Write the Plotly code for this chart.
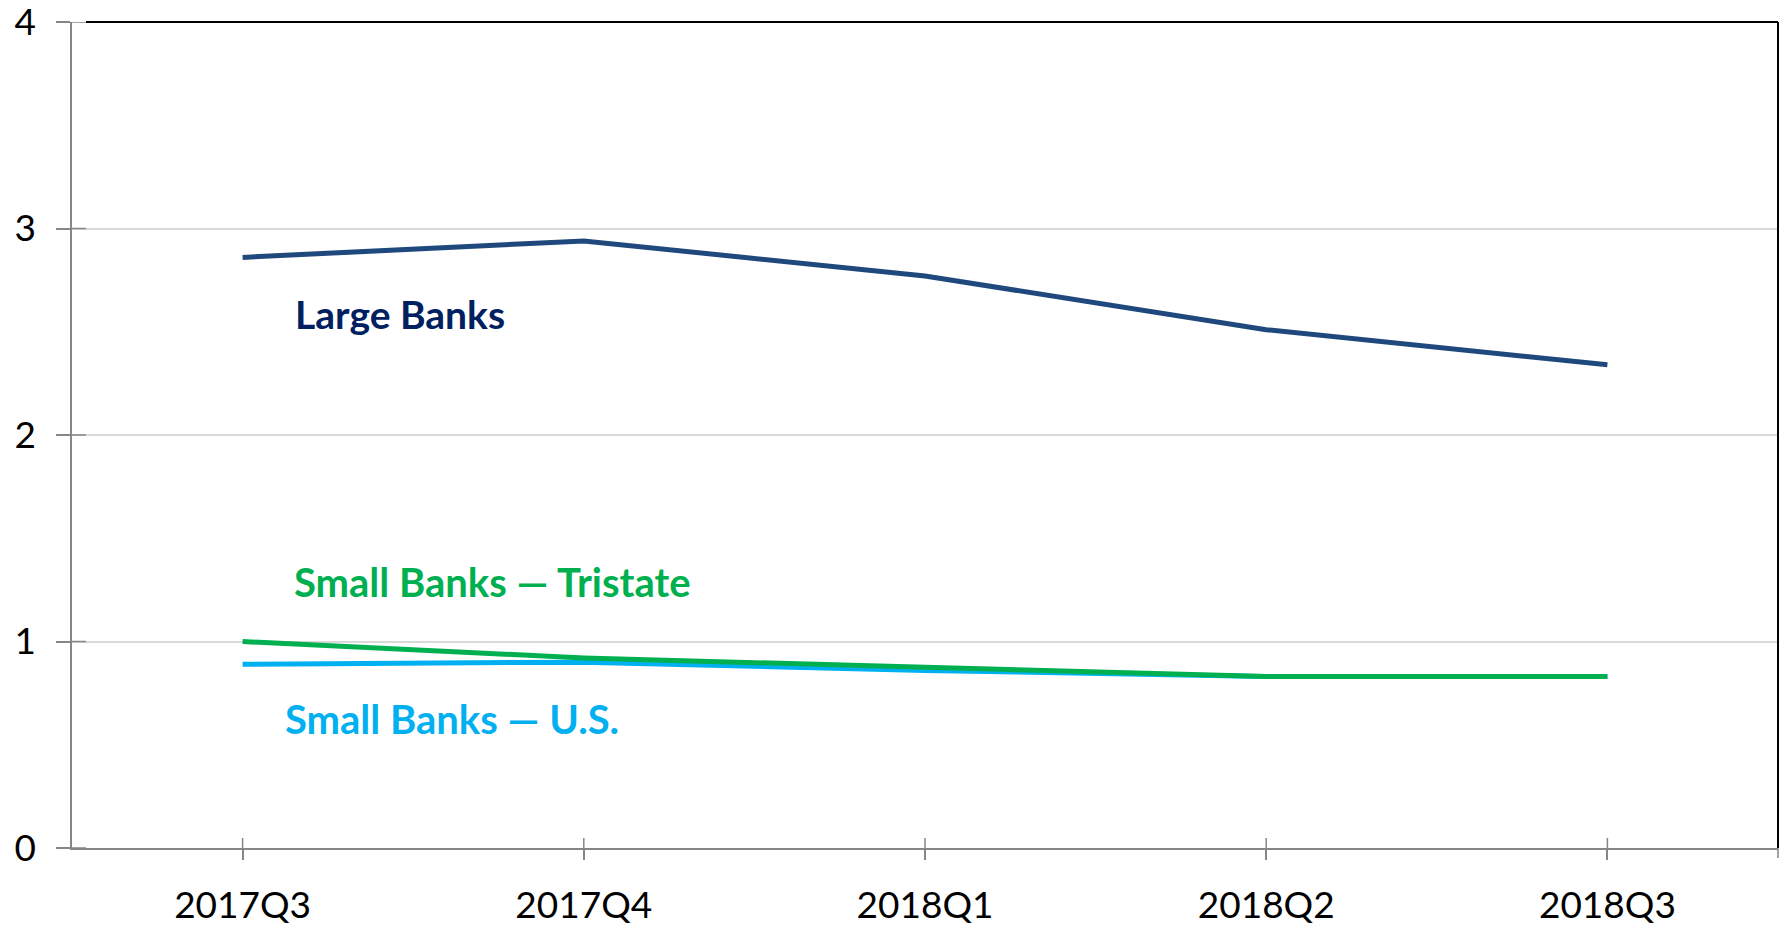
import plotly.graph_objects as go

quarters = ["2017Q3", "2017Q4", "2018Q1", "2018Q2", "2018Q3"]
large_banks = [2.86, 2.94, 2.77, 2.51, 2.34]
small_us = [0.89, 0.90, 0.86, 0.83, 0.83]
small_tristate = [1.00, 0.92, 0.875, 0.83, 0.83]
y_ticks = [0, 1, 2, 3, 4]

# the page body has an 8px default margin, so the figure is 8px smaller
W, H = 1787 - 8, 926 - 8
ML, MR, MT, MB = 64, 9, 14, 78
PW, PH = W - ML - MR, H - MT - MB

AX = "#868686"
fig = go.Figure()
fig.add_trace(go.Scatter(x=quarters, y=large_banks, mode="lines",
                         line=dict(color="#1F497D", width=5), name="Large Banks"))
fig.add_trace(go.Scatter(x=quarters, y=small_us, mode="lines",
                         line=dict(color="#00B0F0", width=5), name="Small Banks — U.S."))
fig.add_trace(go.Scatter(x=quarters, y=small_tristate, mode="lines",
                         line=dict(color="#00B050", width=5), name="Small Banks — Tristate"))

font = "Lato, 'Open Sans', sans-serif"
ann = [
    ("Large Banks", 0.148, 2.586, "#002060", 39),
    ("Small Banks — Tristate", 0.145, 1.288, "#00B050", 40),
    ("Small Banks — U.S.", 0.118, 0.625, "#00B0F0", 40),
]
for text, xv, yv, col, fs in ann:
    fig.add_annotation(x=xv, y=yv, xref="x", yref="y", text="<b>%s</b>" % text,
                       showarrow=False, xanchor="left", yanchor="middle",
                       font=dict(family=font, size=fs, color=col))

shapes = []
# inner halves of tick marks (ticks cross the axis lines)
for i in range(len(quarters)):
    shapes.append(dict(type="line", xref="x", yref="paper", x0=i, x1=i,
                       y0=0, y1=10 / PH, line=dict(color=AX, width=1.5)))
for v in y_ticks:
    shapes.append(dict(type="line", xref="paper", yref="y", x0=0, x1=14 / PW,
                       y0=v, y1=v, line=dict(color=AX, width=1.5)))
# right-end tick on x axis
shapes.append(dict(type="line", xref="paper", yref="paper", x0=1, x1=1,
                   y0=-10 / PH, y1=0, line=dict(color=AX, width=1.5)))
# black top and right borders
shapes.append(dict(type="line", xref="paper", yref="paper", x0=14 / PW, x1=1,
                   y0=1, y1=1, line=dict(color="black", width=2)))
shapes.append(dict(type="line", xref="paper", yref="paper", x0=1, x1=1,
                   y0=0, y1=1, line=dict(color="black", width=2)))

fig.update_layout(
    width=W, height=H,
    margin=dict(l=ML, r=MR, t=MT, b=MB),
    paper_bgcolor="white", plot_bgcolor="white",
    showlegend=False,
    shapes=shapes,
    font=dict(family=font, color="black"),
    xaxis=dict(type="category", range=[-0.5, 4.5], showline=True, linecolor=AX,
               linewidth=1.5, ticks="outside", ticklen=10, tickcolor=AX, tickwidth=1.5,
               showgrid=False, zeroline=False, automargin=False,
               tickfont=dict(family=font, size=37, color="black"),
               ticklabelstandoff=14, ticklabeloverflow="allow"),
    yaxis=dict(range=[0, 4], tickvals=y_ticks, showline=True, linecolor=AX, linewidth=1.5,
               ticks="outside", ticklen=14, tickcolor=AX, tickwidth=1.5, automargin=False,
               showgrid=True, gridcolor="#D9D9D9", gridwidth=1.5, zeroline=False,
               tickfont=dict(family=font, size=37, color="black"), ticklabelstandoff=13,
               ticklabeloverflow="allow"),
)

fig.write_html("out.html")
